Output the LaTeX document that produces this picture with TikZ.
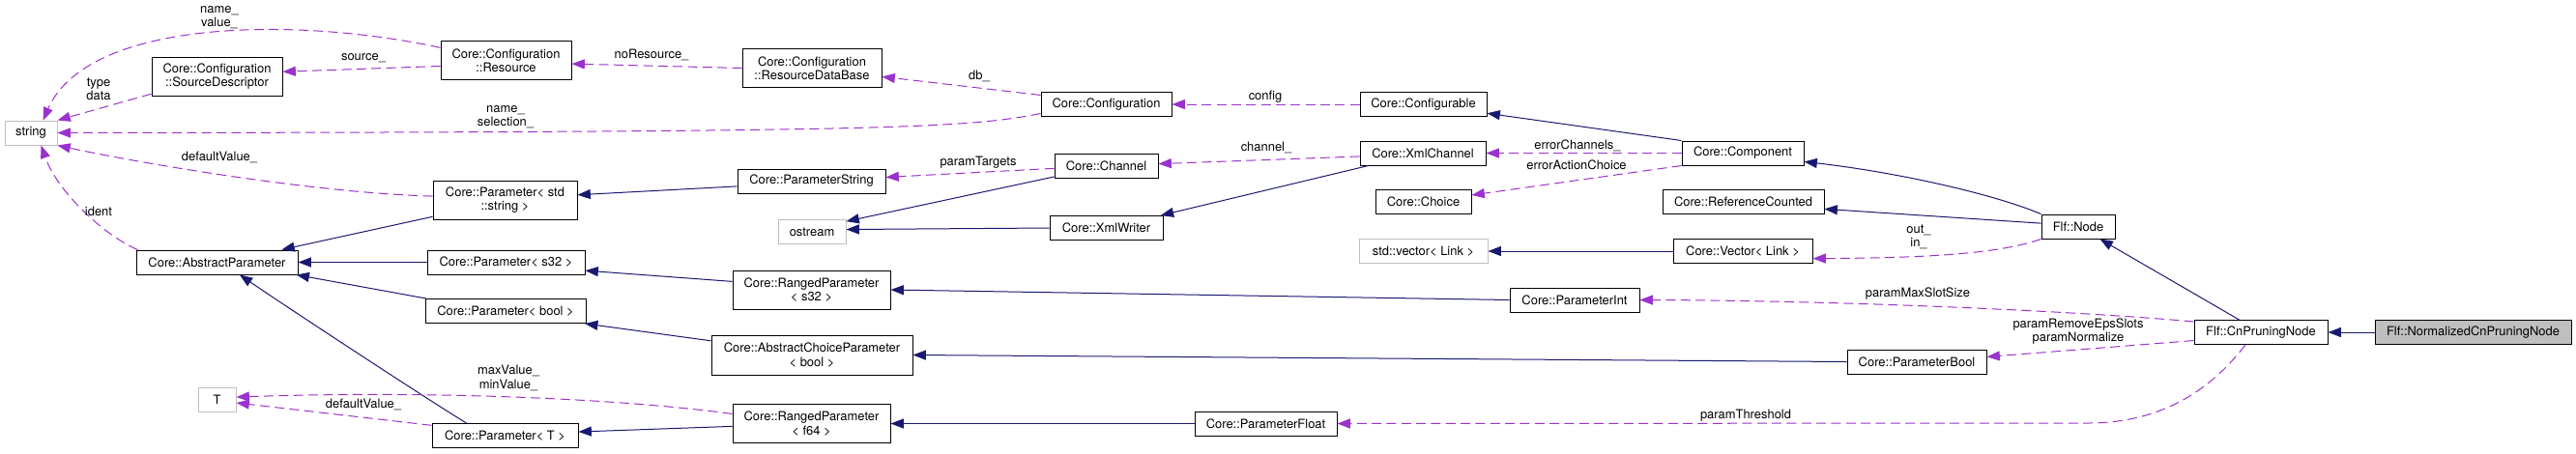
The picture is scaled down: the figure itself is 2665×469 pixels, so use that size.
\documentclass[tikz,border=0pt]{standalone}
\usepackage{fontspec}
\setmainfont{TeX Gyre Heros}
\usetikzlibrary{arrows.meta}
\definecolor{edgenavy}{RGB}{25,25,112}
\definecolor{edgepurple}{RGB}{154,50,205}
\definecolor{boxgray}{RGB}{191,191,191}

\begin{document}
\begin{tikzpicture}[x=0.75pt, y=-0.75pt]
    % Define styles
    \tikzstyle{cls}=[rectangle, draw=black, line width=0.75pt, fill=white, minimum height=18.75pt, inner sep=1pt, align=center, font=\fontsize{9.7}{10.75}\selectfont]
    \tikzstyle{twoline}=[minimum height=30pt]
    \tikzstyle{ext}=[cls, draw=boxgray]
    \tikzstyle{cur}=[cls, fill=boxgray]
    \tikzstyle{lbl}=[align=center, inner sep=0pt, font=\fontsize{9.7}{10.75}\selectfont]
    \tikzstyle{inherit}=[draw=edgenavy, line width=0.75pt, -{Triangle[length=10pt, width=7.5pt]}]
    \tikzstyle{member}=[draw=edgepurple, line width=0.75pt, dash pattern=on 7.5pt off 4pt, -{Triangle[length=10pt, width=7.5pt]}]

    \useasboundingbox (0,0) rectangle (2665,469);

    % Left column
    \node[ext, minimum width=40.5pt] at (32,137.5) (str) {string};
    \node[cls, twoline, minimum width=101.25pt] at (224.5,79) (srcd) {Core::Configuration\\::SourceDescriptor};
    \node[cls, minimum width=125.25pt] at (224.5,271.5) (absp) {Core::AbstractParameter};
    \node[ext, minimum width=29.25pt] at (224.5,413.5) (tt) {T};

    % Second column
    \node[cls, twoline, minimum width=101.25pt] at (523.5,62.5) (res) {Core::Configuration\\::Resource};
    \node[cls, twoline, minimum width=111.75pt] at (522.5,207) (pstr) {Core::Parameter< std\\::string >};
    \node[cls, minimum width=122.25pt] at (523.5,271.5) (ps32) {Core::Parameter< s32 >};
    \node[cls, minimum width=124.5pt] at (523,322) (pbl) {Core::Parameter< bool >};
    \node[cls, minimum width=113.25pt] at (522.5,451) (pT) {Core::Parameter< T >};

    % Third column
    \node[cls, twoline, minimum width=108pt] at (840,70.5) (rdb) {Core::Configuration\\::ResourceDataBase};
    \node[cls, minimum width=114.75pt] at (839.5,187.5) (pstring) {Core::ParameterString};
    \node[ext, minimum width=52.5pt] at (840,240) (ostream) {ostream};
    \node[cls, twoline, minimum width=122.25pt] at (839.5,300) (rs32) {Core::RangedParameter\\< s32 >};
    \node[cls, twoline, minimum width=156pt, minimum height=30.75pt] at (840,367.5) (acp) {Core::AbstractChoiceParameter\\< bool >};
    \node[cls, twoline, minimum width=122.25pt] at (839.5,438.5) (rf64) {Core::RangedParameter\\< f64 >};

    % Fourth column
    \node[cls, minimum width=101.25pt] at (1144.5,108) (conf) {Core::Configuration};
    \node[cls, minimum width=80.25pt] at (1144.5,171.5) (chan) {Core::Channel};
    \node[cls, minimum width=87.75pt] at (1144.5,236) (xw) {Core::XmlWriter};
    \node[cls, minimum width=110.25pt] at (1309.5,438.5) (pfloat) {Core::ParameterFloat};

    % Fifth column
    \node[cls, minimum width=98.25pt] at (1472.5,108) (cfgb) {Core::Configurable};
    \node[cls, minimum width=97.5pt] at (1472,158.5) (xch) {Core::XmlChannel};
    \node[cls, minimum width=74.25pt] at (1472.5,209) (choice) {Core::Choice};
    \node[ext, minimum width=99.75pt] at (1472.5,260) (stdvec) {std::vector< Link >};
    \node[cls, minimum width=100.5pt] at (1629,310.5) (pint) {Core::ParameterInt};

    % Sixth column
    \node[cls, minimum width=94.5pt] at (1803,158.5) (comp) {Core::Component};
    \node[cls, minimum width=125.25pt] at (1803.5,209) (refc) {Core::ReferenceCounted};
    \node[cls, minimum width=108pt] at (1803,260) (vec) {Core::Vector< Link >};
    \node[cls, minimum width=108pt] at (1983,374.5) (pbool) {Core::ParameterBool};

    % Right side
    \node[cls, minimum width=57pt] at (2150,234.5) (fnode) {Flf::Node};
    \node[cls, minimum width=103.5pt] at (2339,344) (cnp) {Flf::CnPruningNode};
    \node[cur, minimum width=152.25pt] at (2558.5,344) (ncnp) {Flf::NormalizedCnPruningNode};

    % Inheritance
    \draw[inherit] (ncnp.west) -- (cnp.east);
    \draw[inherit] (cnp.150) -- (fnode.-30);
    \draw[inherit] (fnode.north west) .. controls (2060,200) and (1960,178) .. (comp.-8);
    \draw[inherit] (fnode.175) -- (refc.-5);
    \draw[inherit] (comp.north west) -- (cfgb.-8);
    \draw[inherit] (vec.west) -- (stdvec.east);
    \draw[inherit] (xch.193) -- (xw.13);
    \draw[inherit] (chan.192) -- (ostream.17);
    \draw[inherit] (xw.west) -- (ostream.4);
    \draw[inherit] (pstring.184) -- (pstr.4);
    \draw[inherit] (pstr.193) -- (absp.11);
    \draw[inherit] (ps32.west) -- (absp.east);
    \draw[inherit] (pbl.171) -- (absp.-9);
    \draw[inherit] (pT.162) .. controls (440,412) and (300,320) .. (absp.-29);
    \draw[inherit] (rs32.174) -- (ps32.-6);
    \draw[inherit] (acp.172) -- (pbl.-9);
    \draw[inherit] (rf64.182) -- (pT.3);
    \draw[inherit] (pint.west) -- (rs32.east);
    \draw[inherit] (pbool.west) -- (acp.east);
    \draw[inherit] (pfloat.west) -- (rf64.east);

    % Members
    \draw[member] (res.169) .. controls (300,16) and (90,21) .. (str.46);
    \draw[member] (res.185) -- (srcd.4);
    \draw[member] (srcd.195) -- (str.north east);
    \draw[member] (conf.188) .. controls (1000,132) and (940,137) .. (str.east);
    \draw[member] (pstr.177) .. controls (330,200) and (150,170) .. (str.south east);
    \draw[member] (absp.171) .. controls (110,245) and (60,200) .. (str.-51);
    \draw[member] (rdb.west) -- (res.-3);
    \draw[member] (conf.172) -- (rdb.-7);
    \draw[member] (cfgb.west) -- (conf.east);
    \draw[member] (chan.183) -- (pstring.3);
    \draw[member] (xch.183) -- (chan.2);
    \draw[member] (comp.west) -- (xch.east);
    \draw[member] (comp.south west) -- (choice.8);
    \draw[member] (fnode.south west) .. controls (2070,262) and (2000,267) .. (vec.-6);
    \draw[member] (cnp.171) .. controls (2150,322) and (1900,311) .. (pint.east);
    \draw[member] (cnp.187) -- (pbool.4);
    \draw[member] (cnp.219) .. controls (2290,400) and (2240,438) .. (2160,438) -- (pfloat.east);
    \draw[member] (pT.172) -- (tt.-10);
    \draw[member] (rf64.173) .. controls (620,410) and (420,405) .. (tt.7);

    % Member labels
    \node[lbl] at (227,18) (l-resstr) {name\_\\value\_};
    \node[lbl] at (376,60) (l-src) {source\_};
    \node[lbl] at (102,92) (l-type) {type\\data};
    \node[lbl] at (523,121) (l-sel) {name\_\\selection\_};
    \node[lbl] at (227,163) (l-defs) {defaultValue\_};
    \node[lbl] at (102,219) (l-ident) {ident};
    \node[lbl] at (674,57) (l-nores) {noResource\_};
    \node[lbl] at (1013,79) (l-db) {db\_};
    \node[lbl] at (1309,100) (l-cfg) {config};
    \node[lbl] at (1012,168) (l-targ) {paramTargets};
    \node[lbl] at (1310,153) (l-chan) {channel\_};
    \node[lbl] at (1632,151) (l-errch) {errorChannels\_};
    \node[lbl] at (1631,171) (l-errac) {errorActionChoice};
    \node[lbl] at (1985,245.5) (l-io) {out\_\\in\_};
    \node[lbl] at (1984,304) (l-maxs) {paramMaxSlotSize};
    \node[lbl] at (2150,343) (l-norm) {paramRemoveEpsSlots\\paramNormalize};
    \node[lbl] at (1806,430) (l-thr) {paramThreshold};
    \node[lbl] at (376,419) (l-deft) {defaultValue\_};
    \node[lbl] at (526,391.5) (l-minmax) {maxValue\_\\minValue\_};

\end{tikzpicture}
\end{document}
